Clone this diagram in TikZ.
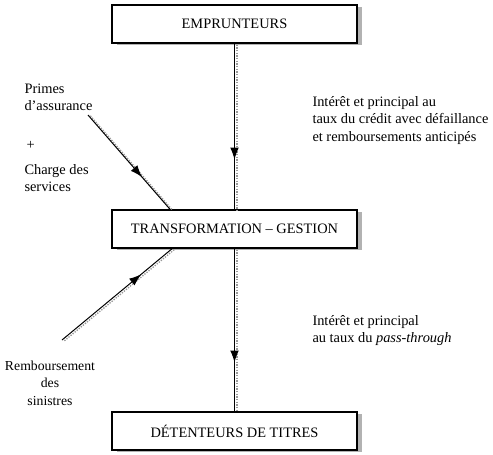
\documentclass[tikz,border=0pt]{standalone}
\usepackage{fontspec}
\setmainfont{Liberation Serif}
\usetikzlibrary{arrows.meta,decorations.markings,shadows}

\tikzset{every picture/.style={line width=0.75pt}}
\tikzset{
  flowbox/.style={draw, line width=1.1pt, fill=white, minimum width=183.75pt, minimum height=28.5pt,
    inner sep=0pt, font=\fontsize{10.8}{12}\selectfont,
    general shadow={shadow xshift=3.6pt, shadow yshift=-1.8pt, fill=black!30}},
  flowtext/.style={anchor=north west, inner sep=0pt, align=left, font=\fontsize{10.8}{13}\selectfont},
  shadowline/.style={preaction={draw=black!40, densely dotted, line width=1pt, transform canvas={shift={(1.8pt,-0.6pt)}}}},
  midarrow/.style={postaction={decorate}, decoration={markings, mark=at position #1 with {\arrow{Latex[length=9pt,width=6.5pt]}}}}
}

\begin{document}
\begin{tikzpicture}[x=0.75pt,y=0.75pt,yscale=-1,xscale=1]
\useasboundingbox (0,0) rectangle (493,454);

% Boxes
\node [flowbox] (borrowers) at (234.5,24) {EMPRUNTEURS};
\node [flowbox] (transform) at (234.5,229) {TRANSFORMATION -- GESTION};
\node [flowbox] (holders) at (234.5,431) {DÉTENTEURS DE TITRES};

% Free ends of the side lines
\coordinate (premiums) at (88,115);
\coordinate (claims) at (62,340);

%Straight Lines
\draw [shadowline, midarrow=0.7] (borrowers.south) -- (transform.north);
%Straight Lines
\draw [shadowline, midarrow=0.7] (transform.south) -- (holders.north);
%Straight Lines
\draw [shadowline, midarrow=0.66] (premiums) -- (transform.north -| 170,0);
%Straight Lines
\draw [shadowline, midarrow=0.72] (claims) -- (transform.south -| 172,0);

% Text Node
\draw (24,83) node [flowtext] (primes) {Primes\\d’assurance};
% Text Node
\draw (26,141) node [flowtext] (plus) {+};
% Text Node
\draw (24,164) node [flowtext] (charge) {Charge des\\services};
% Text Node
\draw (50,383) node [inner sep=0pt, align=center, font=\fontsize{10.3}{13}\selectfont] (sinistres) {Remboursement\\des\\sinistres};
% Text Node
\draw (312,96) node [flowtext] (flowin) {Intérêt et principal au\\taux du crédit avec défaillance\\et remboursements anticipés};
% Text Node
\draw (312,315) node [flowtext] (flowout) {Intérêt et principal\\au taux du \textit{pass-through}};

\end{tikzpicture}
\end{document}
